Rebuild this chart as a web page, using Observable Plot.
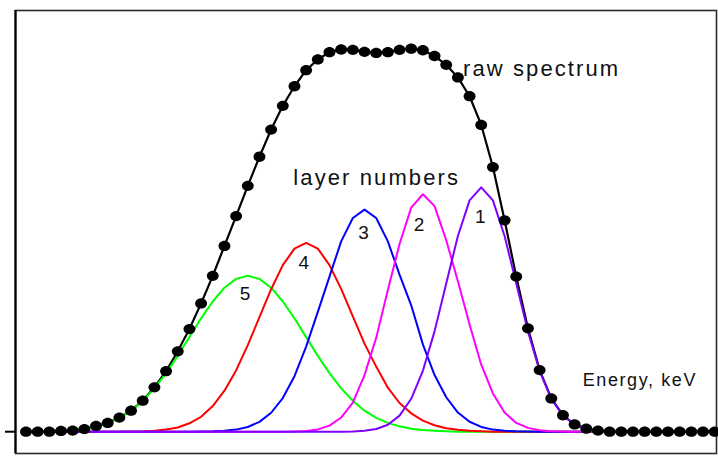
<!DOCTYPE html>
<html>
<head>
<meta charset="utf-8">
<script src="https://cdn.jsdelivr.net/npm/d3@7"></script>
<script src="https://cdn.jsdelivr.net/npm/@observablehq/plot@0.6"></script>
<style>
  html, body { margin: 0; padding: 0; background: #fff; }
  #chart svg { display: block; }
</style>
</head>
<body>
<div id="chart"></div>
<script>
// Detector channels (energy axis, arbitrary units)
const channel = [0,1,2,3,4,5,6,7,8,9,10,11,12,13,14,15,16,17,18,19,20,21,22,23,24,25,26,27,28,29,
                 30,31,32,33,34,35,36,37,38,39,40,41,42,43,44,45,46,47,48,49,50,51,52,53,54,55,56,57,58,59];

// Measured spectrum (relative intensity, %)
const rawSpectrum = [0,0,0,0.2,0.3,0.7,1.5,2.3,3.7,5.5,8.1,11.6,15.8,21.0,26.8,33.5,40.7,48.5,56.3,64.2,
                     71.8,78.9,85.1,90.2,94.4,97.2,99.1,99.8,99.7,99.2,98.9,99.1,99.7,100,99.6,98.1,95.8,92.5,87.6,80.1,
                     69.1,55.2,40.5,27.0,16.1,8.7,4.3,1.9,0.8,0.3,0,0,0,0,0,0,0,0,0,0];

// Contribution of each layer
const layer5 = [0,0,0.1,0.2,0.45,0.8,1.4,2.3,3.6,5.5,8.1,11.3,15.3,19.8,24.7,29.6,34.0,37.6,39.9,40.7,
                39.9,37.6,34.0,29.6,24.7,19.8,15.3,11.3,8.1,5.5,3.6,2.3,1.4,0.8,0.45,0.25,0.1,0,0,0,
                0,0,0,0,0,0,0,0,0,0,0,0,0,0,0,0,0,0,0,0];
const layer4 = [0,0,0,0,0,0,0,0,0,0.05,0.1,0.25,0.55,1.1,2.2,3.9,6.7,10.7,16.0,22.6,
                29.9,37.2,43.5,47.8,49.3,47.8,43.5,37.3,30.1,23.0,17.0,11.5,7.5,4.8,2.9,1.7,0.9,0.5,0.25,0.1,
                0,0,0,0,0,0,0,0,0,0,0,0,0,0,0,0,0,0,0,0];
const layer3 = [0,0,0,0,0,0,0,0,0,0,0,0,0,0,0,0.03,0.09,0.23,0.55,1.24,
                2.57,4.95,8.8,14.5,22.2,31.3,40.5,49.7,55.8,58.0,55.8,49.7,41.0,33.0,22.8,14.8,9.0,5.0,2.6,1.24,
                0.55,0.23,0.09,0.03,0,0,0,0,0,0,0,0,0,0,0,0,0,0,0,0];
const layer2 = [0,0,0,0,0,0,0,0,0,0,0,0,0,0,0,0,0,0,0,0,
                0,0,0,0.07,0.2,0.6,1.6,3.7,7.6,14.8,24.5,37.0,49.0,58.5,62.0,58.9,50.0,39.3,28.0,17.5,
                10.0,5.0,2.3,1.0,0.4,0.15,0.05,0,0,0,0,0,0,0,0,0,0,0,0,0];
const layer1 = [0,0,0,0,0,0,0,0,0,0,0,0,0,0,0,0,0,0,0,0,
                0,0,0,0,0,0,0,0.02,0.08,0.25,0.71,1.8,4.2,8.6,15.9,26.2,38.7,51.1,60.4,63.8,
                60.4,51.1,38.7,26.2,15.9,8.6,4.2,1.8,0.71,0.25,0.08,0.02,0,0,0,0,0,0,0,0];

// Layers in drawing order (deepest first)
const layerSeries = [layer5, layer4, layer3, layer2, layer1];
const layerColors = ["#00ff00", "#ff0000", "#0000ff", "#ff00ff", "#8000ff"];

// Layer number labels placed next to each peak (channel, intensity)
const layerLabel = ["5", "4", "3", "2", "1"];
const layerLabelX = [18.76, 23.80, 28.91, 33.67, 38.91];
const layerLabelY = [34.4, 42.5, 50.3, 52.5, 54.4];

// Free annotations (channel, intensity)
const noteText = ["raw spectrum", "layer numbers", "Energy, keV"];
const noteX = [37.44, 22.90, 47.69];
const noteY = [92.9, 64.4, 11.9];
const noteSize = [22, 22, 18];

const spectrumRows = channel.map((c, i) => ({channel: c, value: rawSpectrum[i]}));
const layerRows = layerSeries.map(s => channel.map((c, i) => ({channel: c, value: s[i]})));
const labelRows = layerLabel.map((t, i) => ({text: t, x: layerLabelX[i], y: layerLabelY[i]}));
const noteRows = noteText.map((t, i) => ({text: t, x: noteX[i], y: noteY[i], size: noteSize[i]}));

// Slightly flattened dot, as in the original instrument printout
const ovalSymbol = {
  draw(context, size) {
    const r = Math.sqrt(size / Math.PI);
    const rx = r * 1.06, ry = r * 0.92, k = 0.5523;
    context.moveTo(rx, 0);
    context.bezierCurveTo(rx, ry * k, rx * k, ry, 0, ry);
    context.bezierCurveTo(-rx * k, ry, -rx, ry * k, -rx, 0);
    context.bezierCurveTo(-rx, -ry * k, -rx * k, -ry, 0, -ry);
    context.bezierCurveTo(rx * k, -ry, rx, -ry * k, rx, 0);
    context.closePath();
  }
};

const xDomain = [-0.8995, 59.154];
const yDomain = [-5.69, 109.98];
const font = "'Liberation Sans', Arial, Helvetica, sans-serif";

const marks = [
  Plot.frame({stroke: "#2a2a2a", strokeWidth: 1.6}),
  Plot.ruleX([xDomain[0]], {stroke: "#000", strokeWidth: 2.2}),
  Plot.line(spectrumRows, {x: "channel", y: "value", stroke: "#000", strokeWidth: 2.2}),
  ...layerRows.map((rows, k) => Plot.line(rows, {x: "channel", y: "value", stroke: layerColors[k], strokeWidth: 2})),
  Plot.dot(spectrumRows, {x: "channel", y: "value", r: 5.6, symbol: ovalSymbol, fill: "#000", stroke: "none"}),
  Plot.text(labelRows, {x: "x", y: "y", text: "text", fontSize: 19, textAnchor: "middle", lineAnchor: "bottom", fill: "#111"}),
  Plot.text(noteRows, {x: "x", y: "y", text: "text", fontSize: "size", textAnchor: "start", lineAnchor: "bottom", fill: "#111"})
];

const hasAxisMark = typeof Plot.axisY === "function";
if (hasAxisMark) {
  marks.push(Plot.axisY({ticks: [0], tickSize: 10, tickFormat: () => "", label: null, stroke: "#000", strokeWidth: 2}));
}

const chart = Plot.plot({
  width: 718,
  height: 458,
  marginLeft: 15,
  marginRight: 2,
  marginTop: 10,
  marginBottom: 5,
  style: {fontFamily: font, background: "#fff"},
  x: {domain: xDomain, axis: null},
  y: hasAxisMark ? {domain: yDomain, axis: null} : {domain: yDomain, ticks: [0], tickSize: 10, tickFormat: () => "", label: null},
  marks
});

// Wider tracking on the annotation text
chart.querySelectorAll('g[aria-label="text"] text').forEach(t => {
  if (t.textContent.length > 1) t.setAttribute("letter-spacing", t.textContent === "Energy, keV" ? "1.6" : "2.1");
});

document.getElementById("chart").append(chart);
</script>
</body>
</html>
